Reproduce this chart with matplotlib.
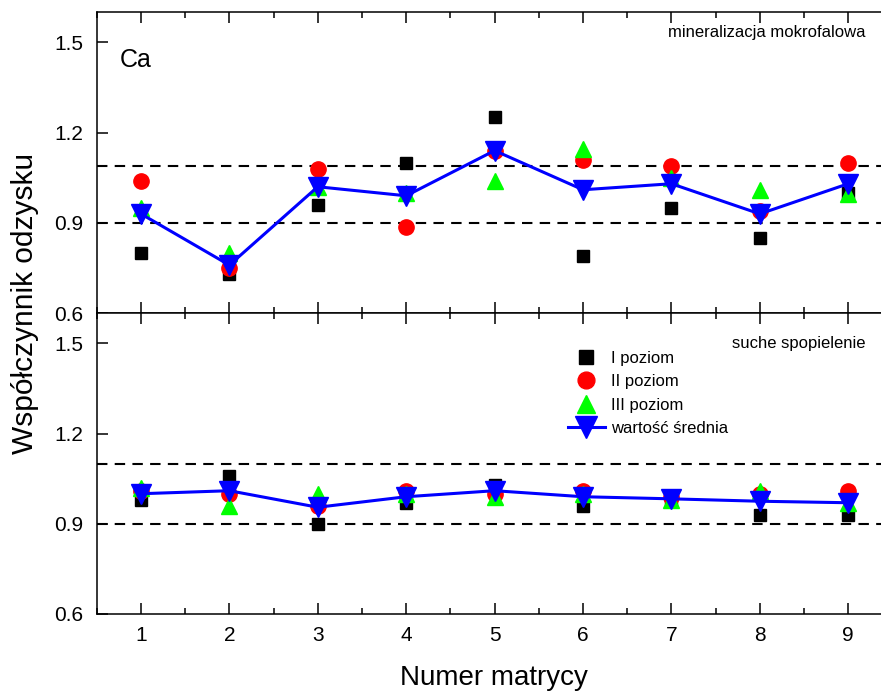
import matplotlib
matplotlib.use('Agg')
import matplotlib.pyplot as plt
from matplotlib.ticker import MultipleLocator

plt.rcParams["font.family"] = ["Liberation Sans", "DejaVu Sans"]

# numery matryc
matryca = [1, 2, 3, 4, 5, 6, 7, 8, 9]

# mineralizacja mikrofalowa (panel gorny)
mw_I = [0.80, 0.73, 0.96, 1.10, 1.25, 0.79, 0.95, 0.85, 1.00]
mw_II = [1.04, 0.75, 1.08, 0.885, 1.14, 1.11, 1.09, 0.94, 1.10]
mw_III = [0.95, 0.80, 1.02, 1.00, 1.04, 1.145, 1.05, 1.01, 0.995]
mw_sr = [0.93, 0.76, 1.02, 0.99, 1.14, 1.01, 1.03, 0.93, 1.03]

# suche spopielenie (panel dolny)
ss_I = [0.98, 1.06, 0.90, 0.97, 1.03, 0.96, 0.98, 0.93, 0.93]
ss_II = [1.01, 1.00, 0.96, 1.01, 1.00, 1.01, 0.99, 1.00, 1.01]
ss_III = [1.02, 0.96, 1.00, 1.00, 0.99, 1.00, 0.98, 1.01, 0.97]
ss_sr = [1.00, 1.01, 0.955, 0.99, 1.01, 0.99, 0.983, 0.975, 0.97]

# granice (linie przerywane)
mw_granice = [0.90, 1.09]
ss_granice = [0.90, 1.10]

y_ticks = [0.6, 0.9, 1.2, 1.5]


def rysuj_panel(ax, s1, s2, s3, sr, granice):
    for g in granice:
        ax.axhline(g, color='black', lw=1.5, ls=(0, (5, 3.5)), zorder=1)
    ax.plot(matryca, s1, 's', color='black', ms=9, ls='none', label='I poziom', zorder=2)
    ax.plot(matryca, s2, 'o', color='#FF0000', ms=11, ls='none', label='II poziom', zorder=3)
    ax.plot(matryca, s3, '^', color='#00FF00', ms=12, ls='none', label='III poziom', zorder=4)
    ax.plot(matryca, sr, 'v-', color='#0000FF', ms=14, lw=2.2, label='wartość średnia', zorder=5)

    ax.set_xlim(0.5, 9.5)
    ax.set_ylim(0.6, 1.6)
    ax.set_yticks(y_ticks)
    ax.set_xticks(matryca)
    ax.xaxis.set_minor_locator(MultipleLocator(0.5))
    ax.tick_params(axis='both', which='both', direction='in', top=True, right=True,
                   width=1.1, labelsize=15)
    ax.tick_params(axis='both', which='major', length=8)
    ax.tick_params(axis='both', which='minor', length=4)
    ax.tick_params(axis='y', pad=9.5)
    ax.tick_params(axis='x', pad=9)
    for sp in ax.spines.values():
        sp.set_linewidth(1.1)


fig = plt.figure(figsize=(8.81, 6.93), dpi=100)
ax1 = fig.add_axes([0.1098, 0.5479, 0.9032, 0.4348])
ax2 = fig.add_axes([0.1098, 0.1140, 0.9032, 0.4339])

rysuj_panel(ax1, mw_I, mw_II, mw_III, mw_sr, mw_granice)
rysuj_panel(ax2, ss_I, ss_II, ss_III, ss_sr, ss_granice)
ax1.tick_params(axis='x', labelbottom=False)

ax1.text(120 / 881, 1 - 60 / 693, 'Ca', transform=fig.transFigure, fontsize=18,
         ha='left', va='center')
fig.text(866 / 881, 1 - 32 / 693, 'mineralizacja mokrofalowa', fontsize=12,
         ha='right', va='center')
fig.text(866 / 881, 1 - 343 / 693, 'suche spopielenie', fontsize=12,
         ha='right', va='center')

fig.text(25 / 881, 1 - 303 / 693, 'Współczynnik odzysku', rotation=90, fontsize=21.5,
         ha='center', va='center')
fig.text(494 / 881, 1 - 678 / 693, 'Numer matrycy', fontsize=20,
         ha='center', va='center')

ax2.legend(loc='upper left', bbox_to_anchor=(568 / 881, 1 - 351 / 693),
           bbox_transform=fig.transFigure, frameon=False, fontsize=12,
           numpoints=1, handlelength=2.2, handletextpad=0.4, labelspacing=0.5,
           borderpad=0, borderaxespad=0, markerscale=1.1)

fig.savefig('out.png', dpi=100)
